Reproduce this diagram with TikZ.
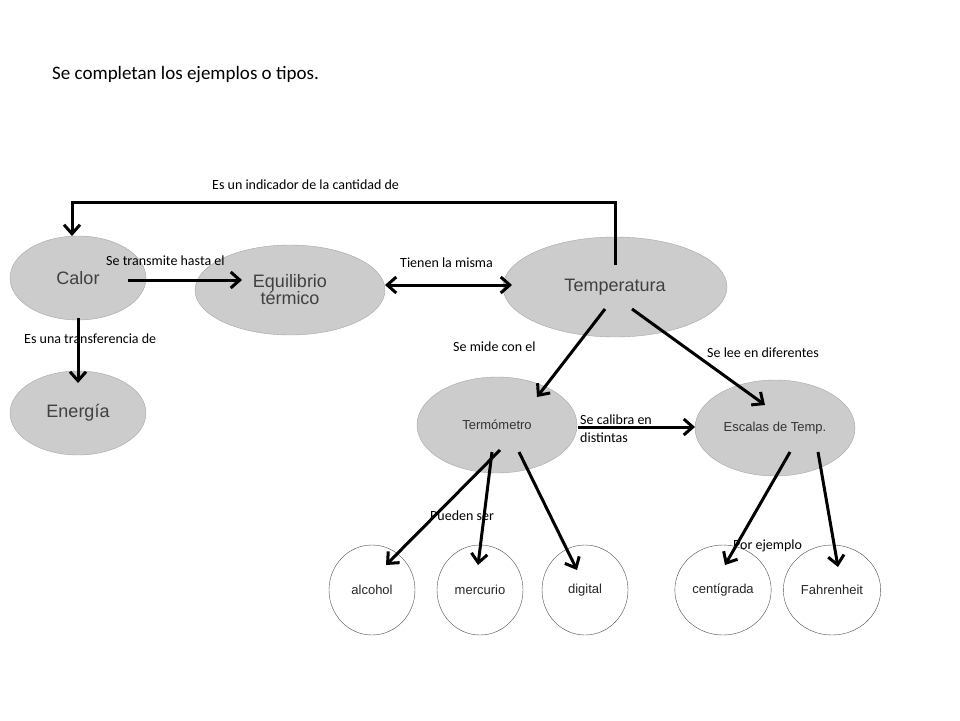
\documentclass[tikz,border=0pt]{standalone}
\usepackage{fontspec}
\setmainfont{Carlito}
\newfontfamily\arialf{Liberation Sans}
\begin{document}
\begin{tikzpicture}[x=1pt,y=-1pt,
 big/.style={ellipse,draw=gray!70,fill=gray!40,font=\arialf\fontsize{18}{20}\selectfont,text=black!75,align=center},
 mid/.style={ellipse,draw=gray!70,fill=gray!40,font=\arialf\fontsize{13}{15}\selectfont,text=black!80},
 sm/.style={ellipse,draw=black!70,fill=white,font=\arialf\fontsize{13}{15}\selectfont,text=black!85},
 arr/.style={line width=3pt,-{Straight Barb[length=9pt,width=16pt,line width=3pt]}},
 lab/.style={font=\fontsize{14}{16}\selectfont,inner sep=0pt}]
\usetikzlibrary{shapes.geometric,arrows.meta}
\useasboundingbox (0,0) rectangle (960,720);
\node[lab,font=\fontsize{19}{22}\selectfont,anchor=west] (t) at (52,75) {Se completan los ejemplos o tipos.};
\node[big,minimum width=136,minimum height=84] (cal) at (78,278) {Calor};
\node[big,minimum width=190,minimum height=90] (eq) at (290,290) {Equilibrio\\[-3pt]térmico};
\node[big,minimum width=224,minimum height=100] (tem) at (615,287) {Temperatura};
\node[big,minimum width=136,minimum height=84] (en) at (78,413) {Energía};
\node[mid,minimum width=160,minimum height=96] (ter) at (497,425) {Termómetro};
\node[mid,minimum width=160,minimum height=96] (esc) at (775,428) {Escalas de Temp.};
\node[sm,minimum width=86,minimum height=90] (al) at (372,590) {alcohol};
\node[sm,minimum width=86,minimum height=90] (me) at (480,590) {mercurio};
\node[sm,minimum width=86,minimum height=90] (di) at (585,590) {digital};
\node[sm,minimum width=86,minimum height=90] (ce) at (723,590) {centígrada};
\node[sm,minimum width=86,minimum height=90] (fa) at (832,590) {Fahrenheit};
\coordinate (p1) at (615,202); \coordinate (p2) at (72,202);
\draw[arr] (615,265) -- (p1) -- (p2) -- (72,236);
\draw[arr] (128,280) -- (242,280);
\draw[line width=3pt,{Straight Barb[length=9pt,width=16pt,line width=3pt]}-{Straight Barb[length=9pt,width=16pt,line width=3pt]}] (385,285) -- (512,285);
\draw[arr] (78,318) -- (78,383);
\draw[arr] (605,309) -- (537,397);
\draw[arr] (632,309) -- (765,405);
\draw[arr] (578,427) -- (695,427);
\draw[arr] (500,450) -- (386,565);
\draw[arr] (492,452) -- (478,565);
\draw[arr] (519,452) -- (577,570);
\draw[arr] (790,452) -- (725,565);
\draw[arr] (818,452) -- (838,567);
\node[lab,anchor=west] (l1) at (212,185) {Es un indicador de la cantidad de};
\node[lab,anchor=west] (l2) at (106,261) {Se transmite hasta el};
\node[lab,anchor=west] (l3) at (400,263) {Tienen la misma};
\node[lab,anchor=west] (l4) at (24,339) {Es una transferencia de};
\node[lab,anchor=west] (l5) at (453,347) {Se mide con el};
\node[lab,anchor=west] (l6) at (707,353) {Se lee en diferentes};
\node[lab,anchor=west,align=left] (l7) at (580,429) {Se calibra en\\[2pt]distintas};
\node[lab,anchor=west] (l8) at (430,516) {Pueden ser};
\node[lab,anchor=west] (l9) at (733,546) {Por ejemplo};
\end{tikzpicture}
\end{document}
